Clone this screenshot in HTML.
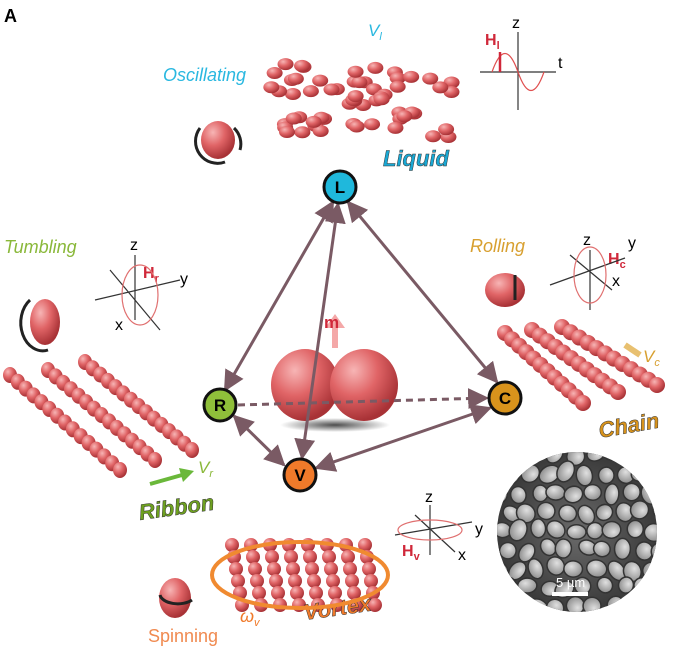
<!DOCTYPE html>
<html><head><meta charset="utf-8">
<style>
html,body{margin:0;padding:0;background:#fff;}
svg{display:block;font-family:"Liberation Sans",sans-serif;}
</style></head>
<body>
<svg id="s" width="684" height="653" viewBox="0 0 684 653" xmlns="http://www.w3.org/2000/svg">
<defs>
<radialGradient id="pg" cx="35%" cy="30%" r="70%">
<stop offset="0" stop-color="#f7b5b5"/><stop offset="0.5" stop-color="#e06466"/><stop offset="1" stop-color="#a83236"/>
</radialGradient>
<radialGradient id="sem" cx="50%" cy="50%" r="50%">
<stop offset="0" stop-color="#6a6a6a"/><stop offset="1" stop-color="#3a3a3a"/>
</radialGradient>
<radialGradient id="sp" cx="40%" cy="35%" r="70%">
<stop offset="0" stop-color="#e0e0e0"/><stop offset="1" stop-color="#8a8a8a"/>
</radialGradient>
<clipPath id="cc"><circle cx="577" cy="532" r="80"/></clipPath>
<marker id="ah" viewBox="0 0 10 10" refX="9" refY="5" markerWidth="7" markerHeight="7" orient="auto-start-reverse">
<path d="M0,0 L10,5 L0,10 z" fill="#7a5a64"/></marker>
<radialGradient id="sh" cx="50%" cy="50%" r="50%"><stop offset="0" stop-color="#000" stop-opacity=".7"/><stop offset="1" stop-color="#000" stop-opacity="0"/></radialGradient>
</defs>
<g id="parts"></g>

<text x="4" y="22" font-weight="bold" font-size="18">A</text>

<!-- SEM -->
<circle cx="577" cy="532" r="80" fill="url(#sem)"/>
<g id="semg" clip-path="url(#cc)"></g>
<rect x="552" y="592" width="36" height="4" fill="#fff"/>
<text x="556" y="587" fill="#fff" font-size="13">5 µm</text>

<!-- center peanut -->
<ellipse cx="335" cy="425" rx="55" ry="7" fill="url(#sh)"/>
<ellipse cx="305" cy="385" rx="34" ry="36" fill="url(#pg)"/>
<ellipse cx="364" cy="385" rx="34" ry="36" fill="url(#pg)"/>
<rect x="332" y="322" width="6" height="26" fill="#f4a8a8"/>
<path d="M325,328 L335,314 L345,328z" fill="#f4a8a8"/>
<text x="324" y="328" fill="#d0283a" font-weight="bold" font-size="17">m</text>

<!-- arrows -->
<g stroke="#7a5a64" stroke-width="3" fill="none">
<line x1="333" y1="202" x2="225" y2="390" marker-end="url(#ah)" marker-start="url(#ah)"/>
<line x1="348" y1="202" x2="497" y2="382" marker-end="url(#ah)" marker-start="url(#ah)"/>
<line x1="338" y1="204" x2="302" y2="458" marker-end="url(#ah)" marker-start="url(#ah)"/>
<line x1="234" y1="416" x2="284" y2="465" marker-end="url(#ah)" marker-start="url(#ah)"/>
<line x1="316" y1="468" x2="490" y2="408" marker-end="url(#ah)" marker-start="url(#ah)"/>
<line x1="238" y1="405" x2="487" y2="398" stroke-dasharray="7,5" marker-end="url(#ah)"/>
</g>

<!-- nodes -->
<g stroke="#111" stroke-width="3" font-weight="bold" font-size="17" text-anchor="middle">
<circle cx="340" cy="187" r="16" fill="#1fb8dc"/><text x="340" y="193" stroke="none">L</text>
<circle cx="220" cy="405" r="16" fill="#8fbf3a"/><text x="220" y="411" stroke="none">R</text>
<circle cx="300" cy="475" r="16" fill="#f07a2a"/><text x="300" y="481" stroke="none">V</text>
<circle cx="505" cy="398" r="16" fill="#d8931c"/><text x="505" y="404" stroke="none">C</text>
</g>

<!-- labels -->
<g font-style="italic">
<text x="163" y="81" fill="#2ab8e0" font-size="18">Oscillating</text>
<text x="383" y="166" fill="#1aa8d4" font-size="22" font-weight="bold" stroke="#333" stroke-width=".5">Liquid</text>
<text x="368" y="36" fill="#2ab8e0" font-size="17">V<tspan font-size="11" dy="4">l</tspan></text>
<text x="4" y="253" fill="#8ab83a" font-size="18">Tumbling</text>
<text x="140" y="520" fill="#6ea020" font-size="22" font-weight="bold" stroke="#333" stroke-width=".5" transform="rotate(-8 140 520)">Ribbon</text>
<text x="198" y="473" fill="#8ab83a" font-size="17">V<tspan font-size="11" dy="4">r</tspan></text>
<text x="470" y="252" fill="#d8a030" font-size="18">Rolling</text>
<text x="600" y="438" fill="#d8931c" font-size="22" font-weight="bold" stroke="#333" stroke-width=".5" transform="rotate(-10 600 438)">Chain</text>
<text x="643" y="362" fill="#d8a030" font-size="17">V<tspan font-size="11" dy="4">c</tspan></text>
<text x="148" y="642" fill="#f08a50" font-size="18" font-style="normal">Spinning</text>
<text x="240" y="622" fill="#f07a2a" font-size="18">ω<tspan font-size="11" dy="4">v</tspan></text>
<text x="305" y="620" fill="#f07a2a" font-size="22" font-weight="bold" stroke="#333" stroke-width=".5" transform="rotate(-8 305 620)">Vortex</text>
</g>
<g font-size="16">
<text x="485" y="45" fill="#d0283a" font-weight="bold">H<tspan font-size="11" dy="4">l</tspan></text>
<text x="512" y="28">z</text><text x="558" y="68">t</text>
<text x="130" y="250">z</text><text x="180" y="284">y</text><text x="115" y="330">x</text>
<text x="143" y="278" fill="#d0283a" font-weight="bold">H<tspan font-size="11" dy="4">r</tspan></text>
<text x="583" y="245">z</text><text x="628" y="248">y</text><text x="612" y="286">x</text>
<text x="608" y="264" fill="#d0283a" font-weight="bold">H<tspan font-size="11" dy="4">c</tspan></text>
<text x="425" y="502">z</text><text x="475" y="534">y</text><text x="458" y="560">x</text>
<text x="402" y="556" fill="#d0283a" font-weight="bold">H<tspan font-size="11" dy="4">v</tspan></text>
</g>
<!-- axes -->
<g stroke="#333" stroke-width="1.2" fill="none">
<line x1="518" y1="32" x2="518" y2="110"/><line x1="480" y1="72" x2="556" y2="72"/>
<path d="M492,72 Q505,35 518,72 T544,72" stroke="#e05050"/>
<line x1="500" y1="72" x2="500" y2="52" stroke="#d0283a" stroke-width="2.5"/>
<line x1="135" y1="255" x2="135" y2="320"/><line x1="95" y1="300" x2="180" y2="280"/><line x1="110" y1="270" x2="160" y2="330"/>
<ellipse cx="140" cy="295" rx="18" ry="30" stroke="#e07070"/>
<line x1="590" y1="250" x2="590" y2="310"/><line x1="550" y1="285" x2="625" y2="258"/><line x1="570" y1="255" x2="612" y2="290"/>
<ellipse cx="590" cy="275" rx="16" ry="28" stroke="#e07070"/>
<line x1="430" y1="505" x2="430" y2="555"/><line x1="395" y1="535" x2="472" y2="522"/><line x1="415" y1="515" x2="455" y2="552"/>
<ellipse cx="430" cy="530" rx="32" ry="10" stroke="#e07070"/>
</g>
<line x1="150" y1="484" x2="182" y2="475" stroke="#6ab83a" stroke-width="4"/>
<path d="M179,468 L194,471 L183,482z" fill="#6ab83a"/>
<path d="M625,345 L640,355" stroke="#e8c070" stroke-width="6"/>
<ellipse cx="300" cy="575" rx="88" ry="33" fill="none" stroke="#f08a30" stroke-width="4"/>
<!-- single particles -->
<ellipse cx="218" cy="140" rx="17" ry="19" fill="url(#pg)"/>
<ellipse cx="45" cy="322" rx="15" ry="23" fill="url(#pg)"/>
<ellipse cx="505" cy="290" rx="20" ry="17" fill="url(#pg)"/>
<ellipse cx="175" cy="598" rx="16" ry="20" fill="url(#pg)"/>
<g stroke="#222" stroke-width="3" fill="none">
<path d="M200,128 A22,22 0 0 0 225,162"/><path d="M234,128 A22,22 0 0 1 240,150"/>
<path d="M30,300 A22,28 0 0 0 48,350"/><path d="M160,595 A18,10 0 0 0 192,600"/>
<path d="M515,275 L515,300"/>
</g>
<script>
var ns="http://www.w3.org/2000/svg",g=document.getElementById('parts');
function mk(par,x,y,rx,ry,f){var e=document.createElementNS(ns,'ellipse');e.setAttribute('cx',x);e.setAttribute('cy',y);e.setAttribute('rx',rx);e.setAttribute('ry',ry);e.setAttribute('fill',f);par.appendChild(e);return e;}
function p(x,y,rx,ry){mk(g,x,y,rx,ry,'url(#pg)');}
var s=7;function rnd(){s=(s*9301+49297)%233280;return s/233280;}
// liquid cluster
for(var i=0;i<60;i++){var x=270+rnd()*190,y=62+rnd()*70+(x-270)*0.04;p(x,y,8,6);}
// ribbon chains
[[10,375,120,470],[48,370,155,460],[85,362,192,450]].forEach(function(c){for(var k=0;k<=14;k++){p(c[0]+(c[2]-c[0])*k/14,c[1]+(c[3]-c[1])*k/14,7,8);}});
// chain
[[505,333,583,403],[532,330,618,392],[562,327,657,385]].forEach(function(c){for(var k=0;k<=11;k++){p(c[0]+(c[2]-c[0])*k/11,c[1]+(c[3]-c[1])*k/11,8,8);}});
// vortex
for(var a=0;a<8;a++)for(var b=0;b<6;b++){p(232+a*19+b*2,545+b*12,7,7);}
// sem
var sg=document.getElementById('semg');
for(var r=0;r<9;r++)for(var c=0;c<9;c++){var x=500+c*19+(r%2)*9+(rnd()-.5)*6,y=455+r*19+(rnd()-.5)*6;
var e=mk(sg,x,y,8+rnd()*3,7+rnd()*2,'url(#sp)');e.setAttribute('stroke','#333');e.setAttribute('stroke-width','1.5');
e.setAttribute('transform','rotate('+Math.floor(rnd()*180)+' '+x+' '+y+')');}
</script>
</svg>
</body></html>
